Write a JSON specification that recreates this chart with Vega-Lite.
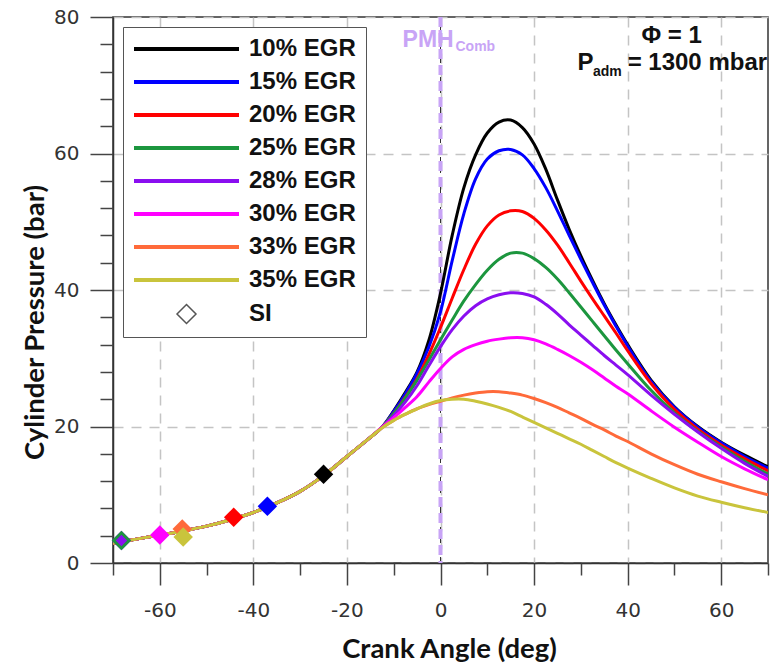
{
  "$schema": "https://vega.github.io/schema/vega-lite/v6.json",
  "width": 655,
  "height": 546,
  "autosize": {"type": "none"},
  "padding": {"left": 113, "top": 17, "right": 2, "bottom": 101},
  "background": "white",
  "config": {
    "view": {"stroke": "#333333", "strokeWidth": 1.5},
    "font": "Liberation Sans"
  },
  "datasets": {
    "curves": [
      {"s":"10% EGR","x":-70,"y":2.9},{"s":"10% EGR","x":-65,"y":3.5},{"s":"10% EGR","x":-60,"y":4.1},{"s":"10% EGR","x":-55,"y":4.7},{"s":"10% EGR","x":-50,"y":5.4},{"s":"10% EGR","x":-45,"y":6.3},{"s":"10% EGR","x":-40,"y":7.4},{"s":"10% EGR","x":-35,"y":8.8},{"s":"10% EGR","x":-30,"y":10.5},{"s":"10% EGR","x":-25,"y":12.8},{"s":"10% EGR","x":-20,"y":15.6},{"s":"10% EGR","x":-15,"y":18.4},{"s":"10% EGR","x":-12.5,"y":19.9},
      {"s":"10% EGR","x":-10,"y":22.3},{"s":"10% EGR","x":-7.5,"y":25.0},{"s":"10% EGR","x":-5,"y":28.0},{"s":"10% EGR","x":-2.5,"y":32.6},{"s":"10% EGR","x":0,"y":39.5},{"s":"10% EGR","x":2.5,"y":48.0},{"s":"10% EGR","x":5,"y":55.0},{"s":"10% EGR","x":7.5,"y":59.8},{"s":"10% EGR","x":10,"y":63.0},{"s":"10% EGR","x":12.5,"y":64.6},{"s":"10% EGR","x":15,"y":64.9},{"s":"10% EGR","x":17.5,"y":63.8},{"s":"10% EGR","x":20,"y":61.4},{"s":"10% EGR","x":22.5,"y":57.7},{"s":"10% EGR","x":25,"y":53.2},{"s":"10% EGR","x":27.5,"y":48.9},{"s":"10% EGR","x":30,"y":45.0},{"s":"10% EGR","x":32.5,"y":41.4},{"s":"10% EGR","x":35,"y":38.0},{"s":"10% EGR","x":37.5,"y":34.9},{"s":"10% EGR","x":40,"y":32.0},{"s":"10% EGR","x":45,"y":26.8},{"s":"10% EGR","x":50,"y":22.9},{"s":"10% EGR","x":55,"y":20.0},{"s":"10% EGR","x":60,"y":17.7},{"s":"10% EGR","x":65,"y":15.8},{"s":"10% EGR","x":70,"y":14.1},

      {"s":"15% EGR","x":-70,"y":2.9},{"s":"15% EGR","x":-65,"y":3.5},{"s":"15% EGR","x":-60,"y":4.1},{"s":"15% EGR","x":-55,"y":4.7},{"s":"15% EGR","x":-50,"y":5.4},{"s":"15% EGR","x":-45,"y":6.3},{"s":"15% EGR","x":-40,"y":7.4},{"s":"15% EGR","x":-35,"y":8.8},{"s":"15% EGR","x":-30,"y":10.5},{"s":"15% EGR","x":-25,"y":12.8},{"s":"15% EGR","x":-20,"y":15.6},{"s":"15% EGR","x":-15,"y":18.4},{"s":"15% EGR","x":-12.5,"y":19.9},
      {"s":"15% EGR","x":-10,"y":22.2},{"s":"15% EGR","x":-7.5,"y":24.8},{"s":"15% EGR","x":-5,"y":27.8},{"s":"15% EGR","x":-2.5,"y":31.6},{"s":"15% EGR","x":0,"y":36.8},{"s":"15% EGR","x":2.5,"y":44.3},{"s":"15% EGR","x":5,"y":51.2},{"s":"15% EGR","x":7.5,"y":56.3},{"s":"15% EGR","x":10,"y":59.2},{"s":"15% EGR","x":12.5,"y":60.4},{"s":"15% EGR","x":15,"y":60.6},{"s":"15% EGR","x":17.5,"y":59.8},{"s":"15% EGR","x":20,"y":57.8},{"s":"15% EGR","x":22.5,"y":55.0},{"s":"15% EGR","x":25,"y":51.6},{"s":"15% EGR","x":27.5,"y":48.0},{"s":"15% EGR","x":30,"y":44.5},{"s":"15% EGR","x":32.5,"y":41.1},{"s":"15% EGR","x":35,"y":37.8},{"s":"15% EGR","x":37.5,"y":34.7},{"s":"15% EGR","x":40,"y":31.8},{"s":"15% EGR","x":45,"y":26.6},{"s":"15% EGR","x":50,"y":22.8},{"s":"15% EGR","x":55,"y":19.9},{"s":"15% EGR","x":60,"y":17.6},{"s":"15% EGR","x":65,"y":15.6},{"s":"15% EGR","x":70,"y":13.9},

      {"s":"20% EGR","x":-70,"y":2.9},{"s":"20% EGR","x":-65,"y":3.5},{"s":"20% EGR","x":-60,"y":4.1},{"s":"20% EGR","x":-55,"y":4.7},{"s":"20% EGR","x":-50,"y":5.4},{"s":"20% EGR","x":-45,"y":6.3},{"s":"20% EGR","x":-40,"y":7.4},{"s":"20% EGR","x":-35,"y":8.8},{"s":"20% EGR","x":-30,"y":10.5},{"s":"20% EGR","x":-25,"y":12.8},{"s":"20% EGR","x":-20,"y":15.6},{"s":"20% EGR","x":-15,"y":18.4},{"s":"20% EGR","x":-12.5,"y":19.9},
      {"s":"20% EGR","x":-10,"y":21.9},{"s":"20% EGR","x":-7.5,"y":24.3},{"s":"20% EGR","x":-5,"y":27.0},{"s":"20% EGR","x":-2.5,"y":30.5},{"s":"20% EGR","x":0,"y":34.5},{"s":"20% EGR","x":2.5,"y":38.8},{"s":"20% EGR","x":5,"y":43.0},{"s":"20% EGR","x":7.5,"y":46.7},{"s":"20% EGR","x":10,"y":49.4},{"s":"20% EGR","x":12.5,"y":51.0},{"s":"20% EGR","x":15,"y":51.6},{"s":"20% EGR","x":17.5,"y":51.5},{"s":"20% EGR","x":20,"y":50.5},{"s":"20% EGR","x":22.5,"y":48.8},{"s":"20% EGR","x":25,"y":46.6},{"s":"20% EGR","x":27.5,"y":44.0},{"s":"20% EGR","x":30,"y":41.3},{"s":"20% EGR","x":32.5,"y":38.7},{"s":"20% EGR","x":35,"y":36.2},{"s":"20% EGR","x":37.5,"y":33.7},{"s":"20% EGR","x":40,"y":31.1},{"s":"20% EGR","x":45,"y":26.3},{"s":"20% EGR","x":50,"y":22.5},{"s":"20% EGR","x":55,"y":19.6},{"s":"20% EGR","x":60,"y":17.3},{"s":"20% EGR","x":65,"y":15.3},{"s":"20% EGR","x":70,"y":13.5},

      {"s":"25% EGR","x":-70,"y":2.9},{"s":"25% EGR","x":-65,"y":3.5},{"s":"25% EGR","x":-60,"y":4.1},{"s":"25% EGR","x":-55,"y":4.7},{"s":"25% EGR","x":-50,"y":5.4},{"s":"25% EGR","x":-45,"y":6.3},{"s":"25% EGR","x":-40,"y":7.4},{"s":"25% EGR","x":-35,"y":8.8},{"s":"25% EGR","x":-30,"y":10.5},{"s":"25% EGR","x":-25,"y":12.8},{"s":"25% EGR","x":-20,"y":15.6},{"s":"25% EGR","x":-15,"y":18.4},{"s":"25% EGR","x":-12.5,"y":19.9},
      {"s":"25% EGR","x":-10,"y":21.9},{"s":"25% EGR","x":-7.5,"y":24.2},{"s":"25% EGR","x":-5,"y":26.8},{"s":"25% EGR","x":-2.5,"y":29.7},{"s":"25% EGR","x":0,"y":32.7},{"s":"25% EGR","x":2.5,"y":35.6},{"s":"25% EGR","x":5,"y":38.4},{"s":"25% EGR","x":7.5,"y":40.8},{"s":"25% EGR","x":10,"y":42.9},{"s":"25% EGR","x":12.5,"y":44.5},{"s":"25% EGR","x":15,"y":45.4},{"s":"25% EGR","x":17.5,"y":45.4},{"s":"25% EGR","x":20,"y":44.6},{"s":"25% EGR","x":22.5,"y":43.3},{"s":"25% EGR","x":25,"y":41.6},{"s":"25% EGR","x":27.5,"y":39.6},{"s":"25% EGR","x":30,"y":37.5},{"s":"25% EGR","x":32.5,"y":35.4},{"s":"25% EGR","x":35,"y":33.3},{"s":"25% EGR","x":37.5,"y":31.2},{"s":"25% EGR","x":40,"y":29.2},{"s":"25% EGR","x":45,"y":25.3},{"s":"25% EGR","x":50,"y":22.0},{"s":"25% EGR","x":55,"y":19.3},{"s":"25% EGR","x":60,"y":17.0},{"s":"25% EGR","x":65,"y":14.9},{"s":"25% EGR","x":70,"y":13.0},

      {"s":"28% EGR","x":-70,"y":2.9},{"s":"28% EGR","x":-65,"y":3.5},{"s":"28% EGR","x":-60,"y":4.1},{"s":"28% EGR","x":-55,"y":4.7},{"s":"28% EGR","x":-50,"y":5.4},{"s":"28% EGR","x":-45,"y":6.3},{"s":"28% EGR","x":-40,"y":7.4},{"s":"28% EGR","x":-35,"y":8.8},{"s":"28% EGR","x":-30,"y":10.5},{"s":"28% EGR","x":-25,"y":12.8},{"s":"28% EGR","x":-20,"y":15.6},{"s":"28% EGR","x":-15,"y":18.4},{"s":"28% EGR","x":-12.5,"y":19.9},
      {"s":"28% EGR","x":-10,"y":21.6},{"s":"28% EGR","x":-7.5,"y":23.6},{"s":"28% EGR","x":-5,"y":26.0},{"s":"28% EGR","x":-2.5,"y":28.9},{"s":"28% EGR","x":0,"y":31.7},{"s":"28% EGR","x":2.5,"y":34.2},{"s":"28% EGR","x":5,"y":36.2},{"s":"28% EGR","x":7.5,"y":37.7},{"s":"28% EGR","x":10,"y":38.7},{"s":"28% EGR","x":12.5,"y":39.3},{"s":"28% EGR","x":15,"y":39.6},{"s":"28% EGR","x":17.5,"y":39.5},{"s":"28% EGR","x":20,"y":39.0},{"s":"28% EGR","x":22.5,"y":37.9},{"s":"28% EGR","x":25,"y":36.5},{"s":"28% EGR","x":27.5,"y":34.9},{"s":"28% EGR","x":30,"y":33.4},{"s":"28% EGR","x":32.5,"y":31.9},{"s":"28% EGR","x":35,"y":30.4},{"s":"28% EGR","x":37.5,"y":29.0},{"s":"28% EGR","x":40,"y":27.6},{"s":"28% EGR","x":45,"y":24.6},{"s":"28% EGR","x":50,"y":21.8},{"s":"28% EGR","x":55,"y":19.2},{"s":"28% EGR","x":60,"y":16.8},{"s":"28% EGR","x":65,"y":14.6},{"s":"28% EGR","x":70,"y":12.7},

      {"s":"30% EGR","x":-70,"y":2.9},{"s":"30% EGR","x":-65,"y":3.5},{"s":"30% EGR","x":-60,"y":4.1},{"s":"30% EGR","x":-55,"y":4.7},{"s":"30% EGR","x":-50,"y":5.4},{"s":"30% EGR","x":-45,"y":6.3},{"s":"30% EGR","x":-40,"y":7.4},{"s":"30% EGR","x":-35,"y":8.8},{"s":"30% EGR","x":-30,"y":10.5},{"s":"30% EGR","x":-25,"y":12.8},{"s":"30% EGR","x":-20,"y":15.6},{"s":"30% EGR","x":-15,"y":18.4},{"s":"30% EGR","x":-12.5,"y":19.9},
      {"s":"30% EGR","x":-10,"y":21.3},{"s":"30% EGR","x":-7.5,"y":22.8},{"s":"30% EGR","x":-5,"y":24.4},{"s":"30% EGR","x":-2.5,"y":26.5},{"s":"30% EGR","x":0,"y":28.5},{"s":"30% EGR","x":2.5,"y":30.2},{"s":"30% EGR","x":5,"y":31.3},{"s":"30% EGR","x":7.5,"y":32.0},{"s":"30% EGR","x":10,"y":32.5},{"s":"30% EGR","x":12.5,"y":32.8},{"s":"30% EGR","x":15,"y":33.0},{"s":"30% EGR","x":17.5,"y":33.0},{"s":"30% EGR","x":20,"y":32.7},{"s":"30% EGR","x":22.5,"y":32.1},{"s":"30% EGR","x":25,"y":31.3},{"s":"30% EGR","x":27.5,"y":30.4},{"s":"30% EGR","x":30,"y":29.4},{"s":"30% EGR","x":32.5,"y":28.3},{"s":"30% EGR","x":35,"y":27.1},{"s":"30% EGR","x":37.5,"y":25.9},{"s":"30% EGR","x":40,"y":24.8},{"s":"30% EGR","x":45,"y":22.3},{"s":"30% EGR","x":50,"y":19.9},{"s":"30% EGR","x":55,"y":17.7},{"s":"30% EGR","x":60,"y":15.6},{"s":"30% EGR","x":65,"y":13.8},{"s":"30% EGR","x":70,"y":12.2},

      {"s":"33% EGR","x":-70,"y":2.9},{"s":"33% EGR","x":-65,"y":3.5},{"s":"33% EGR","x":-60,"y":4.1},{"s":"33% EGR","x":-55,"y":4.7},{"s":"33% EGR","x":-50,"y":5.4},{"s":"33% EGR","x":-45,"y":6.3},{"s":"33% EGR","x":-40,"y":7.4},{"s":"33% EGR","x":-35,"y":8.8},{"s":"33% EGR","x":-30,"y":10.5},{"s":"33% EGR","x":-25,"y":12.8},{"s":"33% EGR","x":-20,"y":15.6},{"s":"33% EGR","x":-15,"y":18.4},{"s":"33% EGR","x":-12.5,"y":19.8},
      {"s":"33% EGR","x":-10,"y":20.9},{"s":"33% EGR","x":-7.5,"y":21.8},{"s":"33% EGR","x":-5,"y":22.6},{"s":"33% EGR","x":-2.5,"y":23.2},{"s":"33% EGR","x":0,"y":23.7},{"s":"33% EGR","x":2.5,"y":24.2},{"s":"33% EGR","x":5,"y":24.6},{"s":"33% EGR","x":7.5,"y":24.9},{"s":"33% EGR","x":10,"y":25.1},{"s":"33% EGR","x":12.5,"y":25.1},{"s":"33% EGR","x":15,"y":24.9},{"s":"33% EGR","x":17.5,"y":24.6},{"s":"33% EGR","x":20,"y":24.1},{"s":"33% EGR","x":22.5,"y":23.5},{"s":"33% EGR","x":25,"y":22.8},{"s":"33% EGR","x":27.5,"y":22.0},{"s":"33% EGR","x":30,"y":21.2},{"s":"33% EGR","x":32.5,"y":20.3},{"s":"33% EGR","x":35,"y":19.5},{"s":"33% EGR","x":37.5,"y":18.6},{"s":"33% EGR","x":40,"y":17.8},{"s":"33% EGR","x":45,"y":16.0},{"s":"33% EGR","x":50,"y":14.4},{"s":"33% EGR","x":55,"y":13.0},{"s":"33% EGR","x":60,"y":11.9},{"s":"33% EGR","x":65,"y":10.9},{"s":"33% EGR","x":70,"y":10.0},

      {"s":"35% EGR","x":-70,"y":2.9},{"s":"35% EGR","x":-65,"y":3.5},{"s":"35% EGR","x":-60,"y":4.1},{"s":"35% EGR","x":-55,"y":4.7},{"s":"35% EGR","x":-50,"y":5.4},{"s":"35% EGR","x":-45,"y":6.3},{"s":"35% EGR","x":-40,"y":7.4},{"s":"35% EGR","x":-35,"y":8.8},{"s":"35% EGR","x":-30,"y":10.5},{"s":"35% EGR","x":-25,"y":12.8},{"s":"35% EGR","x":-20,"y":15.6},{"s":"35% EGR","x":-15,"y":18.4},{"s":"35% EGR","x":-12.5,"y":19.8},
      {"s":"35% EGR","x":-10,"y":20.9},{"s":"35% EGR","x":-7.5,"y":21.8},{"s":"35% EGR","x":-5,"y":22.6},{"s":"35% EGR","x":-2.5,"y":23.3},{"s":"35% EGR","x":0,"y":23.8},{"s":"35% EGR","x":2.5,"y":24.0},{"s":"35% EGR","x":5,"y":24.0},{"s":"35% EGR","x":7.5,"y":23.7},{"s":"35% EGR","x":10,"y":23.3},{"s":"35% EGR","x":12.5,"y":22.8},{"s":"35% EGR","x":15,"y":22.2},{"s":"35% EGR","x":17.5,"y":21.4},{"s":"35% EGR","x":20,"y":20.6},{"s":"35% EGR","x":22.5,"y":19.8},{"s":"35% EGR","x":25,"y":19.0},{"s":"35% EGR","x":27.5,"y":18.2},{"s":"35% EGR","x":30,"y":17.4},{"s":"35% EGR","x":32.5,"y":16.5},{"s":"35% EGR","x":35,"y":15.6},{"s":"35% EGR","x":37.5,"y":14.7},{"s":"35% EGR","x":40,"y":13.9},{"s":"35% EGR","x":45,"y":12.4},{"s":"35% EGR","x":50,"y":11.0},{"s":"35% EGR","x":55,"y":9.8},{"s":"35% EGR","x":60,"y":8.9},{"s":"35% EGR","x":65,"y":8.1},{"s":"35% EGR","x":70,"y":7.4}
    ],
    "si": [
      {"s":"10% EGR","x":-25,"y":13.0},
      {"s":"15% EGR","x":-37,"y":8.3},
      {"s":"20% EGR","x":-44.2,"y":6.7},
      {"s":"28% EGR","x":-68.2,"y":3.3},
      {"s":"25% EGR","x":-68.2,"y":3.3},
      {"s":"30% EGR","x":-60,"y":4.1},
      {"s":"33% EGR","x":-55.2,"y":5.0},
      {"s":"35% EGR","x":-55,"y":3.8}
    ]
  },
  "resolve": {"axis": {"x": "independent", "y": "independent"}},
  "layer": [
    {
      "data": {"values": [{"x": 0}]},
      "mark": {"type": "rule", "color": "#333333", "strokeWidth": 1, "strokeDash": [6, 4]},
      "encoding": {"x": {"field": "x", "type": "quantitative", "axis": null}}
    },
    {
      "data": {"values": [{"x": 0}]},
      "mark": {"type": "rule", "color": "#c8a4f6", "strokeWidth": 4, "strokeDash": [10, 6]},
      "encoding": {"x": {"field": "x", "type": "quantitative", "axis": null}}
    },
    {
      "data": {"name": "curves"},
      "mark": {"type": "line", "strokeWidth": 3, "interpolate": "catmull-rom", "clip": true},
      "encoding": {
        "x": {
          "field": "x", "type": "quantitative",
          "scale": {"domain": [-70, 70], "nice": false, "zero": false},
          "axis": {
            "orient": "bottom", "values": [-60, -40, -20, 0, 20, 40, 60],
            "labelExpr": "'' + datum.value",
            "tickSize": 22, "tickWidth": 1.5, "tickColor": "#444444",
            "domain": true, "domainColor": "#333333", "domainWidth": 1.5,
            "labelFont": "DejaVu Sans", "labelFontSize": 20, "labelColor": "#333333", "labelPadding": 15,
            "grid": true, "gridColor": "#c4c4c4", "gridWidth": 1.5, "gridDash": [10, 8],
            "title": "Crank Angle (deg)", "titleFont": "Lato", "titleFontSize": 27.5, "titleFontWeight": "bold",
            "titleColor": "#111111", "titleX": 336, "titleY": 94, "titleBaseline": "alphabetic"
          }
        },
        "y": {
          "field": "y", "type": "quantitative",
          "scale": {"domain": [0, 80], "nice": false},
          "axis": {
            "orient": "left", "values": [0, 20, 40, 60, 80],
            "tickSize": 23, "tickWidth": 1.5, "tickColor": "#444444",
            "domain": true, "domainColor": "#333333", "domainWidth": 1.5,
            "labelFont": "DejaVu Sans", "labelFontSize": 20, "labelColor": "#333333", "labelPadding": 11,
            "grid": true, "gridColor": "#c4c4c4", "gridWidth": 1.5, "gridDash": [10, 8],
            "title": "Cylinder Pressure (bar)", "titleFont": "Lato", "titleFontSize": 27.5, "titleFontWeight": "bold",
            "titleColor": "#111111", "titleX": -70, "titleY": 305, "titleBaseline": "alphabetic", "titleAngle": -90
          }
        },
        "color": {
          "field": "s", "type": "nominal",
          "scale": {
            "domain": ["10% EGR", "15% EGR", "20% EGR", "25% EGR", "28% EGR", "30% EGR", "33% EGR", "35% EGR", "SI"],
            "range": ["#000000", "#0000ff", "#ff0000", "#1c963e", "#8a0ef0", "#ff00ff", "#ff6a3a", "#c9c43c", "#555555"]
          },
          "legend": {
            "title": null, "orient": "top-left", "offset": 10,
            "symbolSize": 400, "symbolStrokeWidth": 4, "symbolFillColor": "white",
            "labelFont": "Liberation Sans", "labelFontSize": 24, "labelFontWeight": "bold", "labelColor": "#111111",
            "labelOffset": 92, "rowPadding": 9, "padding": 10,
            "strokeColor": "#555555", "fillColor": "white",
            "encode": {
              "symbols": {
                "update": {
                  "shape": {"signal": "datum.value === 'SI' ? 'M3.2,0L4.15,-0.95L5.1,0L4.15,0.95Z' : 'M-1.1,0L9.4,0'"},
                  "fill": {"value": "white"},
                  "fillOpacity": {"value": 0},
                  "stroke": {"signal": "scale('color', datum.value)"},
                  "strokeWidth": {"signal": "datum.value === 'SI' ? 1.5 : 4"},
                  "opacity": {"value": 1}
                }
              }
            }
          }
        }
      }
    },
    {
      "data": {"name": "si"},
      "mark": {"type": "point", "shape": "diamond", "filled": true, "size": 380, "opacity": 1, "strokeWidth": 0},
      "encoding": {
        "x": {
          "field": "x", "type": "quantitative",
          "axis": {
            "orient": "bottom", "values": [-70, -50, -30, -10, 10, 30, 50, 70],
            "tickSize": 12, "tickWidth": 1.5, "tickColor": "#444444",
            "domain": false, "labels": false, "grid": false, "title": null
          }
        },
        "y": {
          "field": "y", "type": "quantitative",
          "axis": {
            "orient": "left", "values": [4, 8, 12, 16, 24, 28, 32, 36, 44, 48, 52, 56, 64, 68, 72, 76],
            "tickSize": 13, "tickWidth": 1.5, "tickColor": "#444444",
            "domain": false, "labels": false, "grid": false, "title": null
          }
        },
        "fill": {
          "field": "s", "type": "nominal", "legend": null,
          "scale": {
            "domain": ["10% EGR", "15% EGR", "20% EGR", "25% EGR", "28% EGR", "30% EGR", "33% EGR", "35% EGR"],
            "range": ["#000000", "#0000ff", "#ff0000", "#1c963e", "#8a0ef0", "#ff00ff", "#ff6a3a", "#c9c43c"]
          }
        }
      }
    },
    {
      "data": {"name": "si"},
      "transform": [{"filter": "datum.s === '28% EGR'"}],
      "mark": {"type": "point", "shape": "diamond", "filled": true, "size": 130, "opacity": 1, "strokeWidth": 0},
      "encoding": {
        "x": {"field": "x", "type": "quantitative", "axis": null},
        "y": {"field": "y", "type": "quantitative", "axis": null},
        "fill": {"field": "s", "type": "nominal", "legend": null}
      }
    },
    {
      "data": {"values": [{"x": -8.1, "y": 75.6, "t": "PMH"}]},
      "mark": {"type": "text", "align": "left", "baseline": "alphabetic", "font": "Liberation Sans", "fontWeight": "bold", "fontSize": 23, "color": "#c8a4f6"},
      "encoding": {
        "x": {"field": "x", "type": "quantitative", "axis": null},
        "y": {"field": "y", "type": "quantitative", "axis": null},
        "text": {"field": "t"}
      }
    },
    {
      "data": {"values": [{"x": 3.2, "y": 75.0, "t": "Comb"}]},
      "mark": {"type": "text", "align": "left", "baseline": "alphabetic", "font": "Liberation Sans", "fontWeight": "bold", "fontSize": 14, "color": "#c8a4f6"},
      "encoding": {
        "x": {"field": "x", "type": "quantitative", "axis": null},
        "y": {"field": "y", "type": "quantitative", "axis": null},
        "text": {"field": "t"}
      }
    },
    {
      "data": {"values": [{"x": 49.4, "y": 76.2, "t": "Φ = 1"}]},
      "mark": {"type": "text", "align": "center", "baseline": "alphabetic", "font": "Liberation Sans", "fontWeight": "bold", "fontSize": 24, "color": "#111111"},
      "encoding": {
        "x": {"field": "x", "type": "quantitative", "axis": null},
        "y": {"field": "y", "type": "quantitative", "axis": null},
        "text": {"field": "t"}
      }
    },
    {
      "data": {"values": [{"x": 29.3, "y": 72.2, "t": "P"}, {"x": 40.0, "y": 72.2, "t": "= 1300 mbar"}]},
      "mark": {"type": "text", "align": "left", "baseline": "alphabetic", "font": "Liberation Sans", "fontWeight": "bold", "fontSize": 24, "color": "#111111"},
      "encoding": {
        "x": {"field": "x", "type": "quantitative", "axis": null},
        "y": {"field": "y", "type": "quantitative", "axis": null},
        "text": {"field": "t"}
      }
    },
    {
      "data": {"values": [{"x": 32.6, "y": 71.4, "t": "adm"}]},
      "mark": {"type": "text", "align": "left", "baseline": "alphabetic", "font": "Liberation Sans", "fontWeight": "bold", "fontSize": 14, "color": "#111111"},
      "encoding": {
        "x": {"field": "x", "type": "quantitative", "axis": null},
        "y": {"field": "y", "type": "quantitative", "axis": null},
        "text": {"field": "t"}
      }
    }
  ]
}
